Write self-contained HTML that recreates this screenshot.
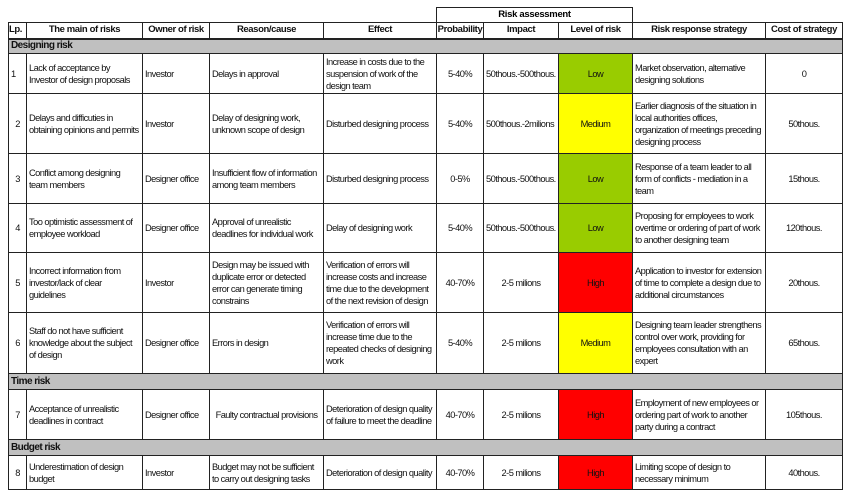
<!DOCTYPE html>
<html><head><meta charset="utf-8"><style>
body{margin:0;width:850px;height:498px;background:#fff;position:relative;font-family:"Liberation Sans",Arial,sans-serif;}
table{position:absolute;left:8px;top:22px;width:834px;border-collapse:collapse;table-layout:fixed;font-size:9.3px;letter-spacing:-0.55px;line-height:12px;color:#111;}
td{border:1px solid #222;padding:0 2px;vertical-align:middle;overflow:hidden;}
th{border:1px solid #222;border-bottom:2px solid #222;font-weight:bold;font-size:9.5px;letter-spacing:-0.4px;padding:0;}
.c{text-align:center}
.sec td{background:#c0c0c0;font-weight:bold;font-size:10px;padding:0 2px;}
.g{background:#99cc00;text-align:center}.y{background:#ffff00;text-align:center}.r{background:#ff0000;text-align:center}
#ra{position:absolute;left:436px;top:7px;width:195px;height:14px;border:1px solid #222;border-bottom:none;text-align:center;font-weight:bold;font-size:9.5px;line-height:14px;letter-spacing:-0.3px}
</style></head><body>
<div id="ra">Risk assessment</div>
<table>
<colgroup><col style="width:18px"><col style="width:116px"><col style="width:67px"><col style="width:114px"><col style="width:113px"><col style="width:47px"><col style="width:75px"><col style="width:74px"><col style="width:133px"><col style="width:77px"></colgroup>
<tr style="height:16px"><th style="text-align:left">Lp.</th><th>The main of risks</th><th>Owner of risk</th><th>Reason/cause</th><th>Effect</th><th>Probability</th><th>Impact</th><th>Level of risk</th><th>Risk response strategy</th><th>Cost of strategy</th></tr>
<tr class="sec" style="height:15px"><td colspan="10">Designing risk</td></tr>
<tr style="height:40px"><td>1</td><td>Lack of acceptance by<br>Investor of design proposals</td><td>Investor</td><td>Delays in approval</td><td>Increase in costs due to the suspension of work of the design team</td><td class="c">5-40%</td><td>50thous.-500thous.</td><td class="g">Low</td><td>Market observation, alternative designing solutions</td><td class="c">0</td></tr>
<tr style="height:60px"><td class="c">2</td><td>Delays and difficuties in obtaining opinions and permits</td><td>Investor</td><td>Delay of designing work, unknown scope of design</td><td>Disturbed designing process</td><td class="c">5-40%</td><td>500thous.-2milions</td><td class="y">Medium</td><td>Earlier diagnosis of the situation in local authorities offices, organization of meetings preceding designing process</td><td class="c">50thous.</td></tr>
<tr style="height:50px"><td class="c">3</td><td>Conflict among designing team members</td><td>Designer office</td><td>Insufficient flow of information among team members</td><td>Disturbed designing process</td><td class="c">0-5%</td><td>50thous.-500thous.</td><td class="g">Low</td><td>Response of a team leader to all form of conflicts - mediation in a team</td><td class="c">15thous.</td></tr>
<tr style="height:49px"><td class="c">4</td><td>Too optimistic assessment of employee workload</td><td>Designer office</td><td>Approval of unrealistic deadlines for individual work</td><td>Delay of designing work</td><td class="c">5-40%</td><td>50thous.-500thous.</td><td class="g">Low</td><td>Proposing for employees to work overtime or ordering of part of work to another designing team</td><td class="c">120thous.</td></tr>
<tr style="height:60px"><td class="c">5</td><td>Incorrect information from investor/lack of clear guidelines</td><td>Investor</td><td>Design may be issued with duplicate error or detected error can generate timing constrains</td><td>Verification of errors will increase costs and increase time due to the development of the next revision of design</td><td class="c">40-70%</td><td class="c">2-5 milions</td><td class="r">High</td><td>Application to investor for extension of time to complete a design due to additional circumstances</td><td class="c">20thous.</td></tr>
<tr style="height:61px"><td class="c">6</td><td>Staff do not have sufficient knowledge about the subject of design</td><td>Designer office</td><td>Errors in design</td><td>Verification of errors will increase time due to the repeated checks of designing work</td><td class="c">5-40%</td><td class="c">2-5 milions</td><td class="y">Medium</td><td>Designing team leader strengthens control over work, providing for employees consultation with an expert</td><td class="c">65thous.</td></tr>
<tr class="sec" style="height:16px"><td colspan="10">Time risk</td></tr>
<tr style="height:50px"><td class="c">7</td><td>Acceptance of unrealistic deadlines in contract</td><td>Designer office</td><td class="c">Faulty contractual provisions</td><td>Deterioration of design quality of failure to meet the deadline</td><td class="c">40-70%</td><td class="c">2-5 milions</td><td class="r">High</td><td>Employment of new employees or ordering part of work to another party during a contract</td><td class="c">105thous.</td></tr>
<tr class="sec" style="height:16px"><td colspan="10">Budget risk</td></tr>
<tr style="height:34px"><td class="c">8</td><td>Underestimation of design budget</td><td>Investor</td><td>Budget may not be sufficient to carry out designing tasks</td><td>Deterioration of design quality</td><td class="c">40-70%</td><td class="c">2-5 milions</td><td class="r">High</td><td>Limiting scope of design to necessary minimum</td><td class="c">40thous.</td></tr>
</table>
</body></html>
